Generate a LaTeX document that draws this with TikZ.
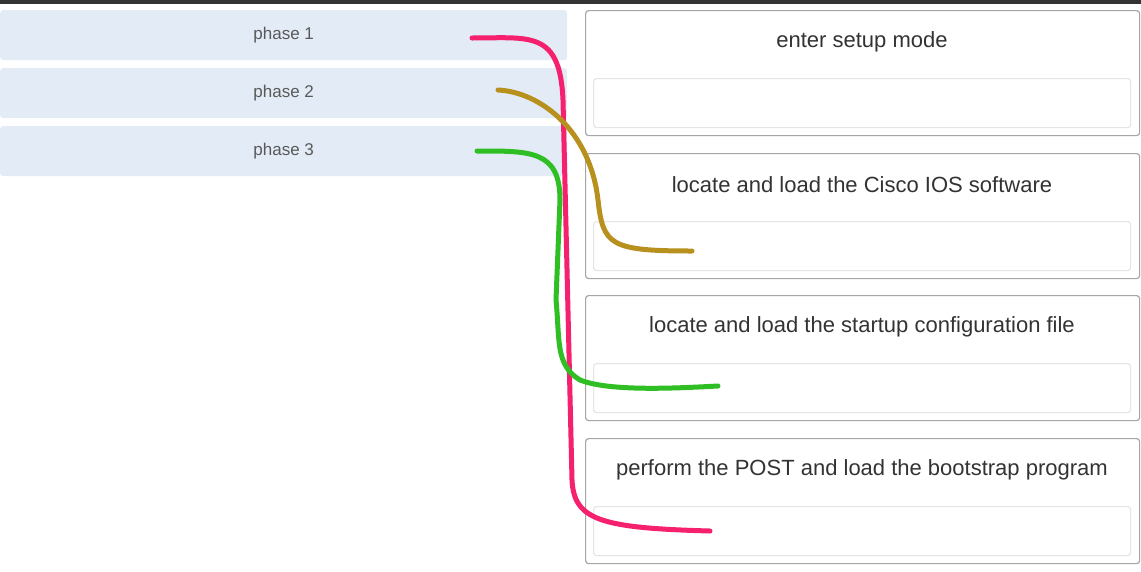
\documentclass[tikz,border=0pt]{standalone}
\usepackage{fontspec}
\setmainfont{Liberation Sans}
\begin{document}
\begin{tikzpicture}[x=1pt,y=-1pt,
  phasebox/.style={fill=phasebg,draw=none,rounded corners=3pt,minimum width=567pt,minimum height=50pt,inner sep=0pt,anchor=north west,text=gray!70!black,font=\fontsize{17}{20}\selectfont},
  outer/.style={draw=gray!70,line width=1.2pt,fill=white,rounded corners=3pt,minimum width=554pt,minimum height=125pt,anchor=north west,inner sep=0pt},
  inner/.style={draw=gray!20,line width=1.2pt,fill=white,rounded corners=3pt,minimum width=537pt,minimum height=49pt,anchor=north west,inner sep=0pt},
  ttl/.style={font=\fontsize{22}{26}\selectfont,text=black!80},
  wire/.style={line width=5pt,line cap=round,line join=round}]
\definecolor{phasebg}{HTML}{E3EBF6}
\definecolor{pinkc}{HTML}{F5206E}
\definecolor{olivec}{HTML}{B8901E}
\definecolor{greenc}{HTML}{2FBF24}
\useasboundingbox (0,0) rectangle (1141,571);
\fill[white] (0,0) rectangle (1141,571);
\fill[black!80] (0,0) rectangle (1141,4);
\node[phasebox] (p1) at (0,10) {phase 1};
\node[phasebox] (p2) at (0,68) {phase 2};
\node[phasebox] (p3) at (0,126) {phase 3};
\foreach \i/\y/\t in {1/10/enter setup mode,2/153/locate and load the Cisco IOS software,3/295/locate and load the startup configuration file,4/438/perform the POST and load the bootstrap program}{
  \node[outer] (b\i) at (585,\y) {};
  \node[ttl] (t\i) at (862,\y+32) {\t};
  \node[inner] (d\i) at (593,\y+68) {};
}
\coordinate (pa) at (472,38);
\coordinate (pb) at (710,531);
\draw[wire,pinkc] (pa) .. controls (530,38) and (560,30) .. (563,100)
  -- (572,480) .. controls (574,520) and (600,528) .. (pb);
\coordinate (oa) at (498,90);
\coordinate (ob) at (692,251);
\draw[wire,olivec] (oa) .. controls (540,92) and (590,130) .. (598,200)
  .. controls (603,245) and (610,251) .. (ob);
\coordinate (ga) at (477,151);
\coordinate (gb) at (718,386);
\draw[wire,greenc] (ga) .. controls (530,151) and (560,150) .. (560,200)
  -- (556,300) .. controls (560,340) and (555,365) .. (580,380)
  .. controls (610,392) and (680,388) .. (gb);
\end{tikzpicture}
\end{document}
